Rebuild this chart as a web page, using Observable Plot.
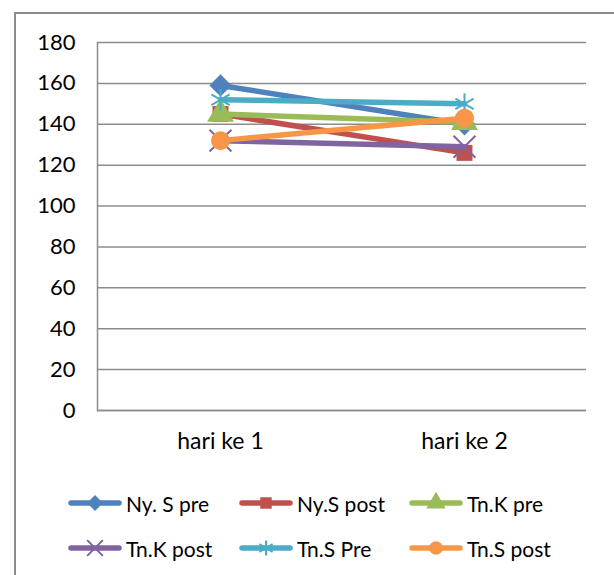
<!DOCTYPE html>
<html>
<head>
<meta charset="utf-8">
<script src="https://cdn.jsdelivr.net/npm/d3@7"></script>
<script src="https://cdn.jsdelivr.net/npm/@observablehq/plot@0.6"></script>
<style>
  html, body { margin: 0; padding: 0; background: #fff; }
  #wrap { position: relative; width: 614px; height: 575px; overflow: hidden; font-family: Lato, "Open Sans", sans-serif; }
  #border { position: absolute; left: 14px; top: 12px; width: 640px; height: 600px; border-left: 2px solid #8c8c8c; border-top: 2px solid #8c8c8c; }
  #chart { position: absolute; left: 0; top: 0; }
  .leg { position: absolute; display: flex; align-items: center; font-size: 21px; color: #000; white-space: nowrap; }
  .leg svg { margin-right: 4px; }
</style>
</head>
<body>
<div id="wrap">
  <div id="border"></div>
  <div id="chart"></div>
  <div id="legend"></div>
</div>
<script>
const categories = ["hari ke 1", "hari ke 2"];
const seriesNames = ["Ny. S pre", "Ny.S post", "Tn.K pre", "Tn.K post", "Tn.S Pre", "Tn.S post"];
const nySPre  = [159, 140];
const nySPost = [145, 126];
const tnKPre  = [145, 141];
const tnKPost = [132, 129];
const tnSPre  = [152, 150];
const tnSPost = [132, 143];
const yTicks = [0, 20, 40, 60, 80, 100, 120, 140, 160, 180];
const colors = ["#4F81BD", "#C0504D", "#9BBB59", "#8064A2", "#4BACC6", "#F79646"];
const symbols = ["diamond2", "square", "triangle", "times", "asterisk", "circle"];

const values = [nySPre, nySPost, tnKPre, tnKPost, tnSPre, tnSPost];
const rows = [];
seriesNames.forEach((s, i) => categories.forEach((c, j) => rows.push({series: s, cat: c, value: values[i][j]})));

const marks = [
  Plot.gridY(yTicks, {stroke: "#8c8c8c", strokeOpacity: 1, strokeWidth: 1.5}),
  Plot.frame({anchor: "left", stroke: "#8c8c8c", strokeWidth: 1.5}),
  Plot.ruleY([0], {stroke: "#8c8c8c", strokeWidth: 1.5}),
  Plot.axisY(yTicks, {tickSize: 0, tickPadding: 22, fontSize: 22, fill: "#000", label: null}),
  Plot.axisX({tickSize: 0, tickPadding: 22, fontSize: 23, fill: "#000", label: null})
];
seriesNames.forEach((s, i) => {
  const data = rows.filter(d => d.series === s);
  const stroked = symbols[i] === "times" || symbols[i] === "asterisk";
  marks.push(Plot.line(data, {x: "cat", y: "value", stroke: colors[i], strokeWidth: 5.5, strokeLinecap: "round"}));
  marks.push(Plot.dot(data, {
    x: "cat", y: "value", symbol: () => symbols[i],
    r: symbols[i] === "circle" ? 9.5 : (symbols[i] === "square" ? 9 : 10),
    fill: stroked ? "none" : colors[i],
    stroke: colors[i],
    strokeWidth: stroked ? 2 : 0
  }));
});

const chart = Plot.plot({
  width: 614,
  height: 470,
  marginTop: 42,
  marginBottom: 60,
  marginLeft: 97,
  marginRight: 28,
  style: {fontFamily: "Lato, 'Open Sans', sans-serif", background: "transparent"},
  x: {type: "point", domain: categories, padding: 0.5, axis: null, label: null},
  y: {domain: [0, 180], axis: null, label: null},
  symbol: {type: "identity"},
  marks
});
document.getElementById("chart").appendChild(chart);

// Legend
const legPos = [[68, 503], [239, 503], [409, 503], [68, 548], [239, 548], [409, 548]];
const legend = document.getElementById("legend");
seriesNames.forEach((s, i) => {
  const div = document.createElement("div");
  div.className = "leg";
  div.style.left = legPos[i][0] + "px";
  div.style.top = (legPos[i][1] - 15) + "px";
  div.style.height = "30px";
  const sw = d3.create("svg").attr("width", 54).attr("height", 30);
  sw.append("line").attr("x1", 3).attr("x2", 51).attr("y1", 15).attr("y2", 15)
    .attr("stroke", colors[i]).attr("stroke-width", 5.5).attr("stroke-linecap", "round");
  const symMap = {diamond2: d3.symbolDiamond2, square: d3.symbolSquare, triangle: d3.symbolTriangle, times: d3.symbolTimes, asterisk: d3.symbolAsterisk, circle: d3.symbolCircle};
  const stroked = symbols[i] === "times" || symbols[i] === "asterisk";
  const r = (symbols[i] === "circle" ? 9.5 : (symbols[i] === "square" ? 9 : 10)) * 0.72;
  sw.append("path").attr("transform", "translate(27,15)")
    .attr("d", d3.symbol(symMap[symbols[i]], Math.PI * r * r)())
    .attr("fill", stroked ? "none" : colors[i])
    .attr("stroke", colors[i]).attr("stroke-width", stroked ? 2 : 0);
  div.appendChild(sw.node());
  const t = document.createElement("span");
  t.textContent = s;
  div.appendChild(t);
  legend.appendChild(div);
});
</script>
</body>
</html>
